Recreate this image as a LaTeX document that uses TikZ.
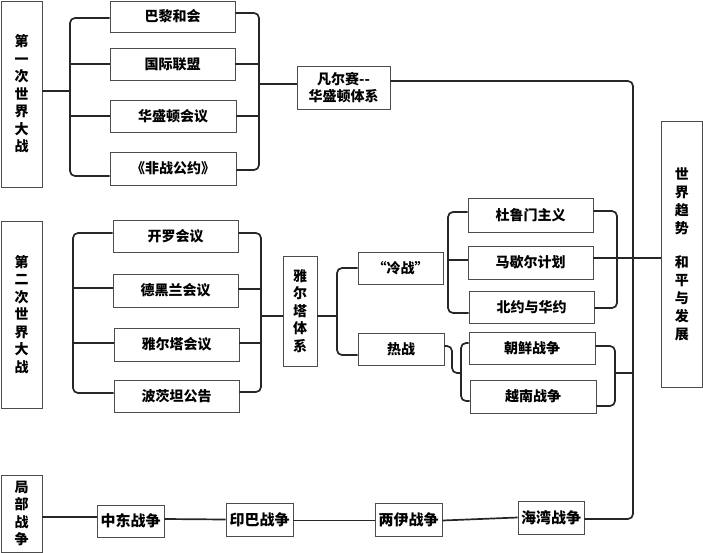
\documentclass[tikz,border=0pt]{standalone}
\usepackage{fontspec}
\setmainfont{Noto Sans CJK SC}
\begin{document}
\begin{tikzpicture}[x=1pt,y=-1pt,
  box/.style={draw=black!70, line width=0.9pt, inner sep=0pt, align=center,
    font=\bfseries\fontsize{14}{17.5}\selectfont},
  sbox/.style={box, font=\bfseries\fontsize{15}{17.5}\selectfont},
  conn/.style={draw=black!85, line width=1.7pt, rounded corners=5pt}]
\useasboundingbox (0,0) rectangle (703,553);

% ---------- WWI ----------
\node[box, minimum width=41pt, minimum height=186pt] (w1) at (21.5,94) {第\\一\\次\\世\\界\\大\\战};
\node[box, minimum width=125pt, minimum height=31pt] (a1) at (172.5,16.5) {巴黎和会};
\node[box, minimum width=125pt, minimum height=32pt] (a2) at (172.5,64) {国际联盟};
\node[box, minimum width=126pt, minimum height=32pt] (a3) at (173,116) {华盛顿会议};
\node[box, minimum width=126pt, minimum height=33pt] (a4) at (173,168.5) {《非战公约》};
\node[box, minimum width=93pt, minimum height=43pt, font=\bfseries\fontsize{14}{17}\selectfont] (v1) at (343.5,87.5) {凡尔赛-{}-\\华盛顿体系};

\coordinate (b1l) at (70,91);
\coordinate (b1r) at (259,84);
\draw[conn] ([yshift=-1.5pt]a1.west) -| (b1l) |- ([yshift=-7.5pt]a4.west);
\draw[conn] (a2.west) -- (a2.west -| b1l);
\draw[conn] (a3.west) -- (a3.west -| b1l);
\draw[conn] (w1.east |- b1l) -- (b1l);
\draw[conn] ([yshift=3.5pt]a1.east) -| (b1r) |- ([yshift=-1.5pt]a4.east);
\draw[conn] (a2.east) -- (a2.east -| b1r);
\draw[conn] (a3.east) -- (a3.east -| b1r);
\draw[conn] (b1r) -- (b1r -| v1.west);

% ---------- trend ----------
\node[box, minimum width=41.5pt, minimum height=266pt, font=\bfseries\fontsize{14}{18}\selectfont] (wt) at (681.75,254) {世\\界\\趋\\势\\[16pt]和\\平\\与\\发\\展};

% ---------- WWII ----------
\node[box, minimum width=41pt, minimum height=187pt] (w2) at (21.5,314.5) {第\\二\\次\\世\\界\\大\\战};
\node[box, minimum width=125pt, minimum height=32pt] (c1) at (175.5,236) {开罗会议};
\node[box, minimum width=125pt, minimum height=33pt] (c2) at (175.5,290.5) {德黑兰会议};
\node[box, minimum width=125pt, minimum height=33pt] (c3) at (176.5,344.5) {雅尔塔会议};
\node[box, minimum width=125pt, minimum height=32pt] (c4) at (176.5,396) {波茨坦公告};
\node[box, minimum width=34pt, minimum height=110pt] (y2) at (300,311) {雅\\尔\\塔\\体\\系};

\coordinate (b2l) at (73,316);
\coordinate (b2r) at (261,316);
\draw[conn] ([yshift=3pt]c1.west) -| (b2l) |- ([yshift=3pt]c4.west);
\draw[conn] ([yshift=2.5pt]c2.west) -- ([yshift=2.5pt]c2.west -| b2l);
\draw[conn] ([yshift=1.5pt]c3.west) -- ([yshift=1.5pt]c3.west -| b2l);
\draw[conn] ([yshift=3pt]c1.east) -| (b2r) |- ([yshift=4pt]c4.east);
\draw[conn] ([yshift=1.5pt]c2.east) -- ([yshift=1.5pt]c2.east -| b2r);
\draw[conn] ([yshift=1.5pt]c3.east) -- ([yshift=1.5pt]c3.east -| b2r);
\draw[conn] (b2r) -- (b2r -| y2.west);

% ---------- cold / hot war ----------
\node[box, minimum width=85pt, minimum height=32pt] (lw) at (400.5,268) {“冷战”};
\node[box, minimum width=86pt, minimum height=32pt] (hw) at (401,349) {热战};
\coordinate (b3) at (337,316);
\draw[conn] (lw.west) -| (b3) |- ([yshift=-6pt]hw.west);
\draw[conn] (y2.east |- b3) -- (b3);

\node[box, minimum width=125pt, minimum height=34pt] (d1) at (530.5,215) {杜鲁门主义};
\node[box, minimum width=125pt, minimum height=33pt] (d2) at (530.5,262.5) {马歇尔计划};
\node[box, minimum width=125pt, minimum height=32pt] (d3) at (531.5,307) {北约与华约};
\coordinate (b4l) at (448,260);
\coordinate (b4r) at (617,258);
\draw[conn] ([yshift=3pt]d1.west) -| (b4l) |- ([yshift=-6pt]d3.west);
\draw[conn] ([yshift=2.5pt]d2.west) -- ([yshift=2.5pt]d2.west -| b4l);
\draw[conn] ([yshift=4pt]d1.east) -| (b4r) |- ([yshift=-1pt]d3.east);
\draw[conn] ([yshift=4.5pt]d2.east) -- ([yshift=4.5pt]d2.east -| wt.west);

\node[box, minimum width=126pt, minimum height=32pt] (e1) at (532,348) {朝鲜战争};
\node[box, minimum width=126pt, minimum height=33pt] (e2) at (533,396.5) {越南战争};
\coordinate (b5l) at (461,373);
\coordinate (b5r) at (615,373);
\coordinate (hk) at (452,360);
\draw[conn] ([yshift=3pt]hw.east) -| (hk) |- (b5l);
\draw[conn] ([yshift=5pt]e1.west) -| (b5l) |- ([yshift=-4.5pt]e2.west);
\draw[conn] ([yshift=2pt]e1.east) -| (b5r) |- ([yshift=-9.5pt]e2.east);

% ---------- local wars ----------
\node[box, minimum width=41pt, minimum height=77pt] (lb) at (21.5,513.5) {局\\部\\战\\争};
\node[sbox, minimum width=67pt, minimum height=32pt] (m1) at (130.5,521) {中东战争};
\node[sbox, minimum width=67pt, minimum height=33pt] (m2) at (259.5,519.5) {印巴战争};
\node[sbox, minimum width=67pt, minimum height=33pt] (m3) at (408.5,519.5) {两伊战争};
\node[sbox, minimum width=66pt, minimum height=33pt] (m4) at (551,517.5) {海湾战争};
\draw[conn] ([yshift=-3.5pt]lb.east) -- ([yshift=4pt]m1.west);
\draw[conn] ([yshift=2pt]m1.east) -- (m2.west);
\draw[conn] ([yshift=-1pt]m2.east) -- ([yshift=-1pt]m3.west);
\draw[conn] ([yshift=-1pt]m3.east) -- (m4.west);

% ---------- main trunk ----------
\coordinate (tr) at (633,373);
\draw[conn] ([yshift=6.5pt]v1.east) -| (tr) |- ([yshift=-1.5pt]m4.east);
\draw[conn] (b5r) -- (tr);
\end{tikzpicture}
\end{document}
